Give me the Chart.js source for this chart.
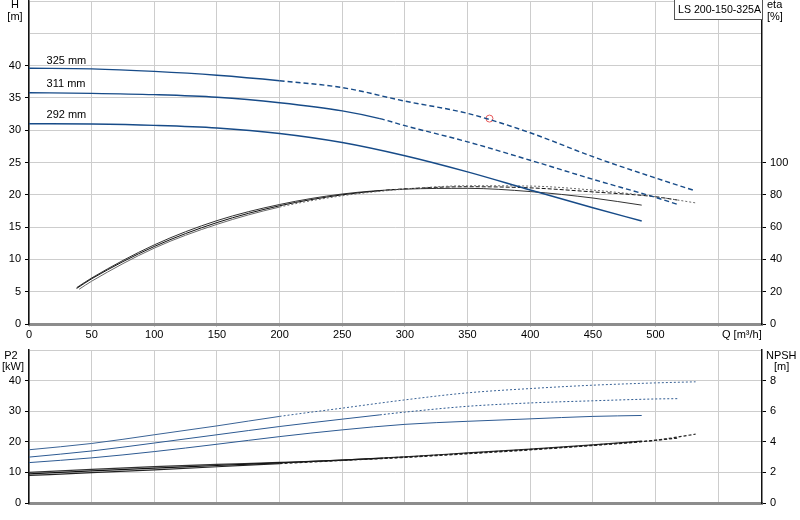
<!DOCTYPE html>
<html><head><meta charset="utf-8">
<script src="https://cdn.jsdelivr.net/npm/chart.js@4.4.0/dist/chart.umd.min.js"></script>
<style>
html,body{margin:0;padding:0;background:#fff;}
#wrap{position:relative;width:800px;height:520px;overflow:hidden;background:#fff;}
canvas{position:absolute;left:0;}
#top{top:0;width:800px;height:345px;}
#bot{top:345px;width:800px;height:175px;}
</style></head><body>
<div id="wrap"><canvas id="top" width="800" height="345"></canvas><canvas id="bot" width="800" height="175"></canvas></div>
<script>
// ---------- data ----------
const DIAMETERS = ['325 mm', '311 mm', '292 mm'];
const MODEL = 'LS 200-150-325A';

const Q325 = [0, 50, 100, 150, 200, 250, 300, 350, 400, 450, 500, 532];
const H325 = [39.6, 39.5, 39.1, 38.5, 37.65, 36.6, 34.5, 32.6, 29.6, 25.9, 22.6, 20.6];
const P325 = [17.4, 19.45, 22.3, 25.2, 28.3, 31.0, 33.7, 36.0, 37.4, 38.5, 39.25, 39.6];
const N325 = [1.8, 1.98, 2.17, 2.37, 2.58, 2.78, 2.98, 3.22, 3.47, 3.76, 4.1, 4.5];

const Q311 = [0, 50, 100, 150, 200, 250, 280, 300, 350, 400, 450, 500, 518];
const H311 = [35.8, 35.7, 35.5, 35.1, 34.25, 33.0, 31.8, 30.7, 28.2, 25.35, 22.4, 19.6, 18.5];
const P311 = [15.0, 17.0, 19.6, 22.3, 25.0, 27.4, 28.8, 29.7, 31.6, 32.7, 33.4, 34.0, 34.1];
const N311 = [1.9, 2.1, 2.28, 2.45, 2.62, 2.8, 2.92, 3.0, 3.25, 3.5, 3.78, 4.1, 4.25];

const Q292 = [0, 50, 100, 150, 200, 250, 300, 350, 400, 450, 489];
const H292 = [31.0, 30.95, 30.75, 30.35, 29.5, 28.1, 26.05, 23.55, 20.75, 18.0, 15.95];
const P292 = [13.2, 14.75, 16.8, 19.2, 21.7, 23.9, 25.7, 26.7, 27.5, 28.3, 28.6];
const N292 = [2.0, 2.2, 2.38, 2.52, 2.65, 2.8, 3.02, 3.27, 3.52, 3.8, 4.05];

const QE325 = [40, 50, 100, 150, 200, 250, 300, 350, 400, 450, 500, 532];
const E325  = [21.5, 26.5, 47, 61.7, 72.4, 79.4, 83.5, 85.6, 85.4, 82.9, 78.8, 75];
const QE311 = [38, 50, 100, 150, 200, 250, 280, 300, 350, 400, 450, 500, 518];
const E311  = [22, 28, 48, 62.8, 73.2, 80, 82.5, 83.7, 85, 84.3, 81.8, 78.8, 76.7];
const QE292 = [38, 50, 100, 150, 200, 250, 300, 350, 400, 450, 489];
const E292  = [22.5, 28.5, 49, 64, 74, 80.5, 83.5, 84, 82, 78, 73.6];

const DUTY_Q = [367.5];
const DUTY_H = [31.8];

// dashed (extrapolated) part begins at these flows
const DASH_FROM = {'325 mm': 200, '311 mm': 280, '292 mm': null};

// ---------- helpers ----------
const FONT_FAMILY = 'Arial, "Liberation Sans", sans-serif';
const FONT = {family: FONT_FAMILY, size: 11};
const GRID = '#cdcdcd';
const BLUE = '#174b88';

function pts(xs, ys) { return xs.map((x, i) => ({x: x, y: ys[i]})); }
function lineDs(xs, ys, color, width, dashFrom, dash, axis) {
  return {
    type: 'line', data: pts(xs, ys), yAxisID: axis,
    borderColor: color, borderWidth: width, pointRadius: 0, fill: false,
    cubicInterpolationMode: 'monotone', tension: 0.4,
    segment: {borderDash: ctx => (dashFrom != null && ctx.p0.parsed.x >= dashFrom) ? dash : undefined}
  };
}

const textPlugin = {
  id: 'texts',
  afterDraw(chart, args, opts) {
    const c = chart.ctx;
    (opts.items || []).forEach(it => {
      let x = it.x, y = it.y;
      if (it.q !== undefined) {
        x = chart.scales.x.getPixelForValue(it.q);
        y = chart.scales.y.getPixelForValue(it.h) + it.dy;
      }
      c.save();
      c.font = (it.size || 11) + 'px ' + FONT_FAMILY;
      c.fillStyle = '#000';
      c.textAlign = it.align || 'left';
      c.textBaseline = 'middle';
      c.fillText(it.text, x, y);
      c.restore();
    });
    if (opts.box) {
      const b = opts.box;
      c.save();
      c.fillStyle = '#fff';
      c.fillRect(b.x, b.y, b.w, b.h);
      c.strokeStyle = '#555';
      c.lineWidth = 1;
      c.strokeRect(b.x + 0.5, b.y + 0.5, b.w, b.h);
      c.font = '10.6px ' + FONT_FAMILY;
      c.fillStyle = '#000';
      c.textBaseline = 'middle';
      c.fillText(b.text, b.x + 4, b.y + b.h / 2 + 1);
      c.restore();
    }
  }
};

function xAxis(showLabels, height) {
  return {
    type: 'linear', min: 0, max: 585,
    afterBuildTicks: s => { s.ticks = s.ticks.filter(t => t.value % 50 === 0); },
    ticks: {stepSize: 50, display: showLabels, autoSkip: false, maxRotation: 0,
            callback: v => (v <= 500 ? v : ''), font: FONT, color: '#000', padding: 1},
    grid: {color: GRID, lineWidth: 1, tickColor: GRID, tickLength: showLabels ? 3 : 0},
    border: {color: '#8c8c8c', width: 3},
    afterFit: s => { s.height = height; s.paddingLeft = 0; s.paddingRight = 0; }
  };
}
function yAxis(pos, max, step, labelMax, width, onArea) {
  return {
    position: pos, min: 0, max: max,
    ticks: {stepSize: step, callback: v => (v <= labelMax ? v : ''), font: FONT, color: '#000', padding: 4},
    grid: {color: GRID, lineWidth: 1, tickLength: 4, drawOnChartArea: onArea,
           tickColor: ctx => (ctx.tick && ctx.tick.value <= labelMax) ? '#000' : 'rgba(0,0,0,0)'},
    border: {color: '#111', width: 1.5},
    afterFit: s => { s.width = width; s.paddingTop = 0; s.paddingBottom = 0; }
  };
}

Chart.defaults.animation = false;

// ---------- top chart: H and eta ----------
new Chart(document.getElementById('top'), {
  type: 'line',
  data: {datasets: [
    lineDs(Q325, H325, BLUE, 1.4, DASH_FROM['325 mm'], [5, 3], 'y'),
    lineDs(Q311, H311, BLUE, 1.4, DASH_FROM['311 mm'], [5, 3], 'y'),
    lineDs(Q292, H292, BLUE, 1.4, DASH_FROM['292 mm'], [5, 3], 'y'),
    lineDs(QE325, E325, '#6a6a6a', 1, DASH_FROM['325 mm'], [2, 2], 'y2'),
    lineDs(QE311, E311, '#111', 1, DASH_FROM['311 mm'], [4, 2], 'y2'),
    lineDs(QE292, E292, '#333', 1, DASH_FROM['292 mm'], [4, 2], 'y2'),
    {type: 'line', data: pts(DUTY_Q, DUTY_H), yAxisID: 'y', showLine: false,
     pointRadius: 3.5, pointBorderColor: '#e85a5a', pointBackgroundColor: 'rgba(0,0,0,0)', pointBorderWidth: 1}
  ]},
  options: {
    responsive: false, devicePixelRatio: 1,
    layout: {autoPadding: false, padding: {top: 1, left: 0, right: 0, bottom: 0}},
    plugins: {legend: {display: false}, tooltip: {enabled: false},
      texts: {
        items: [
          {text: 'H', x: 15, y: 5, align: 'center'},
          {text: '[m]', x: 15, y: 17, align: 'center'},
          {text: 'eta', x: 767, y: 5},
          {text: '[%]', x: 767, y: 17},
          {text: 'Q [m³/h]', x: 722, y: 335},
          {text: DIAMETERS[0], q: 14, h: H325[0], dy: -7},
          {text: DIAMETERS[1], q: 14, h: H311[0], dy: -9},
          {text: DIAMETERS[2], q: 14, h: H292[0], dy: -8.5}
        ],
        box: {x: 674, y: -1, w: 88, h: 20, text: MODEL}
      }
    },
    scales: {
      x: xAxis(true, 21),
      y: yAxis('left', 50, 5, 40, 29, true),
      y2: yAxis('right', 200, 20, 100, 38, false)
    }
  },
  plugins: [textPlugin]
});

// ---------- bottom chart: P2 and NPSH ----------
new Chart(document.getElementById('bot'), {
  type: 'line',
  data: {datasets: [
    lineDs(Q325, P325, '#3a6396', 1, DASH_FROM['325 mm'], [2, 2], 'y'),
    lineDs(Q311, P311, '#2d5a92', 1, DASH_FROM['311 mm'], [2, 2], 'y'),
    lineDs(Q292, P292, '#2d5a92', 1, DASH_FROM['292 mm'], [2, 2], 'y'),
    lineDs(Q325, N325, '#222', 1.2, DASH_FROM['325 mm'], [3, 2], 'y2'),
    lineDs(Q311, N311, '#111', 1.2, DASH_FROM['311 mm'], [3, 2], 'y2'),
    lineDs(Q292, N292, '#333', 1.2, DASH_FROM['292 mm'], [3, 2], 'y2')
  ]},
  options: {
    responsive: false, devicePixelRatio: 1,
    layout: {autoPadding: false, padding: {top: 5, left: 0, right: 0, bottom: 0}},
    plugins: {legend: {display: false}, tooltip: {enabled: false},
      texts: {
        items: [
          {text: 'P2', x: 11, y: 11, align: 'center'},
          {text: '[kW]', x: 13, y: 22, align: 'center'},
          {text: 'NPSH', x: 766, y: 11},
          {text: '[m]', x: 774, y: 22}
        ]
      }
    },
    scales: {
      x: xAxis(false, 17),
      y: yAxis('left', 50, 10, 40, 29, true),
      y2: yAxis('right', 10, 2, 8, 38, false)
    }
  },
  plugins: [textPlugin]
});
</script>
</body></html>
